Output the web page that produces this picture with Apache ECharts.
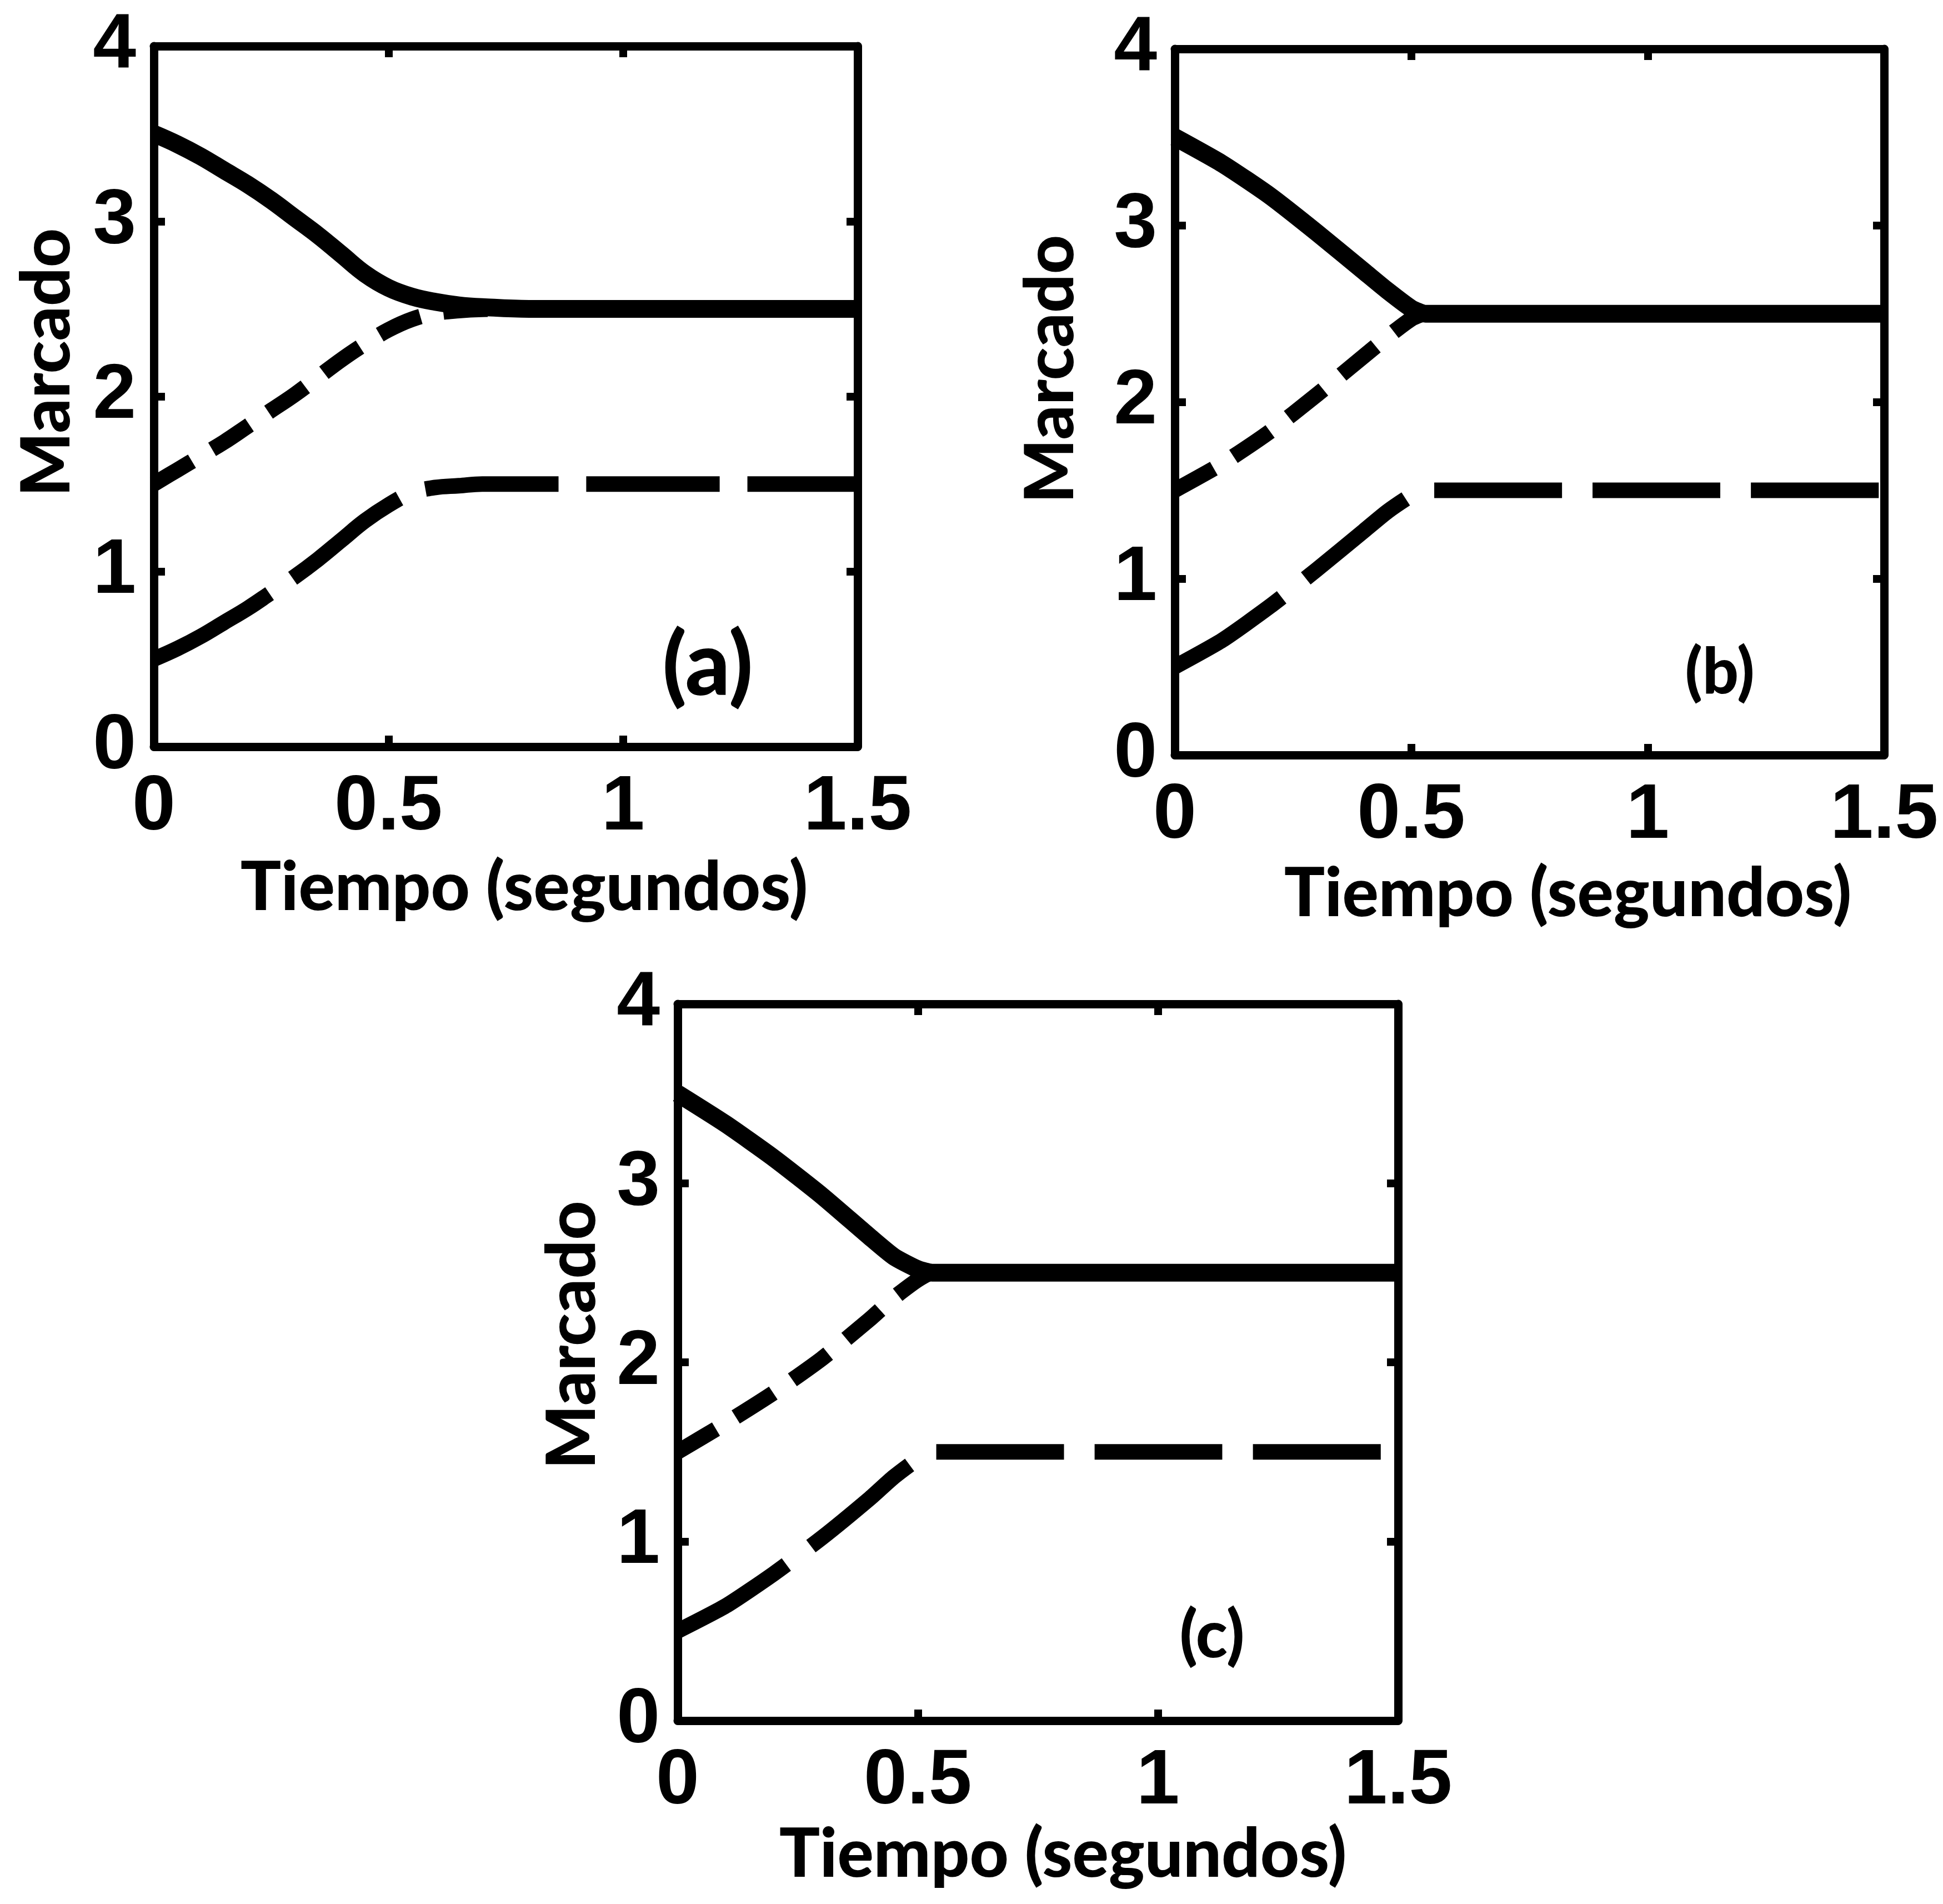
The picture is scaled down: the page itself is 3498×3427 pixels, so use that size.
<!DOCTYPE html>
<html>
<head>
<meta charset="utf-8">
<script src="https://cdn.jsdelivr.net/npm/echarts@6/dist/echarts.min.js"></script>
<style>
html,body{margin:0;padding:0;background:#fff;}
#chart{width:3498px;height:3427px;}
</style>
</head>
<body>
<div id="chart"></div>
<script>
// ---- data ----
const xTicks = [0, 0.5, 1, 1.5];
const yTicks = [0, 1, 2, 3, 4];
const panelLabels = ['(a)', '(b)', '(c)'];
const xTitle = 'Tiempo (segundos)';
const yTitle = 'Marcado';

const timesA      = [0, 0.05, 0.1, 0.15, 0.2, 0.25, 0.3, 0.35, 0.4, 0.45, 0.5, 0.55, 0.6, 0.65, 0.7, 0.8, 1.0, 1.5];
const solidA      = [3.5, 3.44, 3.37, 3.29, 3.21, 3.12, 3.02, 2.92, 2.81, 2.70, 2.62, 2.57, 2.54, 2.52, 2.51, 2.50, 2.5, 2.5];
const shortDashA  = [1.5, 1.58, 1.66, 1.74, 1.83, 1.92, 2.01, 2.11, 2.21, 2.30, 2.38, 2.44, 2.475, 2.49, 2.497, 2.5, 2.5, 2.5];
const longDashA   = [0.5, 0.56, 0.63, 0.71, 0.79, 0.88, 0.97, 1.07, 1.18, 1.29, 1.38, 1.45, 1.48, 1.49, 1.5, 1.5, 1.5, 1.5];

const timesB      = [0, 0.1, 0.2, 0.3, 0.4, 0.45, 0.5, 0.53, 0.6, 0.8, 1.0, 1.5];
const solidB      = [3.5, 3.35, 3.17, 2.96, 2.74, 2.63, 2.53, 2.5, 2.5, 2.5, 2.5, 2.5];
const shortDashB  = [1.5, 1.65, 1.83, 2.04, 2.26, 2.37, 2.47, 2.5, 2.5, 2.5, 2.5, 2.5];
const longDashB   = [0.5, 0.65, 0.84, 1.05, 1.27, 1.38, 1.47, 1.5, 1.5, 1.5, 1.5, 1.5];

const timesC      = [0, 0.1, 0.2, 0.3, 0.4, 0.45, 0.5, 0.53, 0.6, 0.8, 1.0, 1.5];
const solidC      = [3.5, 3.33, 3.14, 2.93, 2.70, 2.59, 2.52, 2.5, 2.5, 2.5, 2.5, 2.5];
const shortDashC  = [1.5, 1.66, 1.83, 2.02, 2.24, 2.36, 2.46, 2.5, 2.5, 2.5, 2.5, 2.5];
const longDashC   = [0.5, 0.64, 0.82, 1.02, 1.24, 1.36, 1.46, 1.5, 1.5, 1.5, 1.5, 1.5];

// ---- layout / style ----
const panels = [
  {grid:{left:277, top:83, width:1267, height:1261}, times:timesA, solid:solidA, sd:shortDashA, ld:longDashA,
   xShift:33, yShift:61, xGap:194, yGap:130, label:{x:1274, y:1200, size:158}, smooth:0.4, longDash:[240, 50]},
  {grid:{left:2115, top:88, width:1277, height:1271}, times:timesB, solid:solidB, sd:shortDashB, ld:longDashB,
   xShift:69, yShift:59, xGap:190, yGap:161, label:{x:3096, y:1211, size:114}, smooth:0.2, longDash:[230, 55]},
  {grid:{left:1220, top:1807, width:1297, height:1290}, times:timesC, solid:solidC, sd:shortDashC, ld:longDashC,
   xShift:45, yShift:49, xGap:166, yGap:127, label:{x:2182, y:2945, size:118}, smooth:0.2, longDash:[230, 55]}
];

const BLACK = '#000';
const tickFont = {fontFamily:'Liberation Sans', fontWeight:'bold', fontSize:140, color:BLACK};
const titleFont = {fontFamily:'Lato', fontWeight:900, fontSize:122, color:BLACK};
const axisLine = {show:true, onZero:false, lineStyle:{color:BLACK, width:15, cap:'round'}};
const axisTick = {show:true, inside:true, length:20, lineStyle:{color:BLACK, width:14}};

const grids = [], xAxes = [], yAxes = [], series = [], graphics = [];
panels.forEach((p, i) => {
  grids.push(Object.assign({containLabel:false}, p.grid));
  const xBase = {type:'value', gridIndex:i, min:xTicks[0], max:xTicks[xTicks.length-1], interval:0.5,
    axisLine, axisTick, splitLine:{show:false}};
  const yBase = {type:'value', gridIndex:i, min:yTicks[0], max:yTicks[yTicks.length-1], interval:1,
    axisLine, axisTick, splitLine:{show:false}};
  xAxes.push(Object.assign({}, xBase, {position:'bottom',
    axisLabel:Object.assign({margin:40}, tickFont),
    name:xTitle, nameLocation:'middle', nameGap:p.xGap,
    nameTextStyle:Object.assign({padding:[0,0,0,2*p.xShift]}, titleFont)}));
  xAxes.push(Object.assign({}, xBase, {position:'top', axisLabel:{show:false}}));
  yAxes.push(Object.assign({}, yBase, {position:'left',
    axisLabel:Object.assign({margin:32}, tickFont),
    name:yTitle, nameLocation:'middle', nameGap:p.yGap,
    nameTextStyle:Object.assign({padding:[0,0,0,2*p.yShift]}, titleFont)}));
  yAxes.push(Object.assign({}, yBase, {position:'right', axisLabel:{show:false}}));
  const xi = i*2, yi = i*2;
  const mk = (vals, width, dash) => ({
    type:'line', xAxisIndex:xi, yAxisIndex:yi, showSymbol:false, symbol:'none',
    smooth:p.smooth, clip:true, animation:false,
    lineStyle:{color:BLACK, width:width, type:dash || 'solid', cap:'butt', join:'round'},
    data:p.times.map((t, k) => [t, vals[k]])
  });
  series.push(mk(p.ld, 28, p.longDash));
  series.push(mk(p.sd, 28, [80, 42]));
  series.push(mk(p.solid, 32, null));
  graphics.push({type:'text', x:p.label.x, y:p.label.y,
    style:{text:panelLabels[i], fontFamily:'Lato', fontWeight:900, fontSize:p.label.size,
      fill:BLACK, align:'center', verticalAlign:'middle'}});
});

const chart = echarts.init(document.getElementById('chart'), null, {renderer:'canvas'});
chart.setOption({
  backgroundColor:'#fff',
  animation:false,
  grid:grids, xAxis:xAxes, yAxis:yAxes, series:series, graphic:graphics
});
</script>
</body>
</html>
